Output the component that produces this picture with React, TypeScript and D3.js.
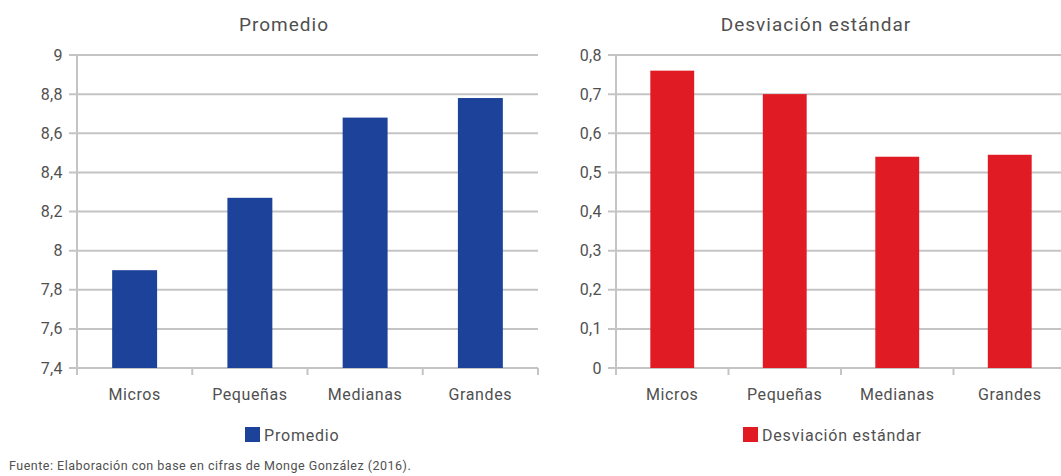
import React from 'react';
import * as d3 from 'd3';

const categories = ['Micros', 'Pequeñas', 'Medianas', 'Grandes'];
const promedio = [7.9, 8.27, 8.68, 8.78];
const desviacion = [0.76, 0.7, 0.54, 0.545];
const promedioTicks = [7.4, 7.6, 7.8, 8, 8.2, 8.4, 8.6, 8.8, 9];
const desviacionTicks = [0, 0.1, 0.2, 0.3, 0.4, 0.5, 0.6, 0.7, 0.8];
const titles = ['Promedio', 'Desviación estándar'];
const source = 'Fuente: Elaboración con base en cifras de Monge González (2016).';

const W = 1061;
const H = 476;
const TOP = 55;
const BOTTOM = 368;
const FONT = 'Roboto, "Noto Sans", sans-serif';
const TEXT = '#505050';
const GRID = '#c4c4c4';

const fmt = (v: number) => String(+v.toFixed(2)).replace('.', ',');

type PanelProps = {
  x0: number;
  x1: number;
  values: number[];
  ticks: number[];
  domain: [number, number];
  color: string;
  title: string;
  titleX: number;
  legendX: number;
};

function Panel({ x0, x1, values, ticks, domain, color, title, titleX, legendX }: PanelProps) {
  const y = d3.scaleLinear().domain(domain).range([BOTTOM, TOP]);
  const xb = d3.scaleBand<string>().domain(categories).range([x0, x1]).padding(0);
  const xbar = d3
    .scaleBand<string>()
    .domain(categories)
    .range([x0, x1])
    .paddingInner(0.61)
    .paddingOuter(0.305);
  const tickX = categories.map((c) => xb(c) as number).concat([x1]);
  return (
    <g>
      <text
        x={titleX}
        y={31}
        textAnchor="middle"
        fontSize={19}
        fill={TEXT}
        style={{ letterSpacing: '1px' }}
      >
        {title}
      </text>
      {ticks.map((t) => (
        <g key={t}>
          <line x1={x0 - 8} x2={x1} y1={y(t)} y2={y(t)} stroke={GRID} strokeWidth={2} />
          <text
            x={x0 - 14}
            y={y(t)}
            dy="0.35em"
            textAnchor="end"
            fontSize={16}
            fill={TEXT}
            style={{ letterSpacing: '0.4px' }}
          >
            {fmt(t)}
          </text>
        </g>
      ))}
      <line x1={x0} x2={x0} y1={TOP} y2={BOTTOM} stroke={GRID} strokeWidth={2} />
      {tickX.map((tx, i) => (
        <line key={i} x1={tx} x2={tx} y1={BOTTOM} y2={BOTTOM + 7} stroke={GRID} strokeWidth={2} />
      ))}
      {values.map((v, i) => (
        <rect
          key={categories[i]}
          x={xbar(categories[i])}
          width={xbar.bandwidth()}
          y={y(v)}
          height={y(domain[0]) - y(v)}
          fill={color}
        />
      ))}
      {categories.map((c) => (
        <text
          key={c}
          x={(xb(c) as number) + xb.bandwidth() / 2}
          y={400}
          textAnchor="middle"
          fontSize={16}
          fill={TEXT}
          style={{ letterSpacing: '0.6px' }}
        >
          {c}
        </text>
      ))}
      <rect x={legendX} y={427} width={15} height={15} fill={color} />
      <text x={legendX + 19} y={441} fontSize={16} fill={TEXT} style={{ letterSpacing: '0.8px' }}>
        {title}
      </text>
    </g>
  );
}

export default function App() {
  return (
    <svg
      width={W}
      height={H}
      viewBox={`0 0 ${W} ${H}`}
      style={{ position: 'absolute', left: 0, top: 0, background: '#fff', fontFamily: FONT }}
    >
      <rect x={0} y={0} width={W} height={H} fill="#fff" />
      <Panel
        x0={77}
        x1={538}
        values={promedio}
        ticks={promedioTicks}
        domain={[7.4, 9]}
        color="#1c4299"
        title={titles[0]}
        titleX={284}
        legendX={245}
      />
      <Panel
        x0={616}
        x1={1066}
        values={desviacion}
        ticks={desviacionTicks}
        domain={[0, 0.8]}
        color="#e11b23"
        title={titles[1]}
        titleX={816}
        legendX={743}
      />
      <text x={9} y={470} fontSize={12.5} fill={TEXT} style={{ letterSpacing: '0.5px' }}>
        {source}
      </text>
    </svg>
  );
}
